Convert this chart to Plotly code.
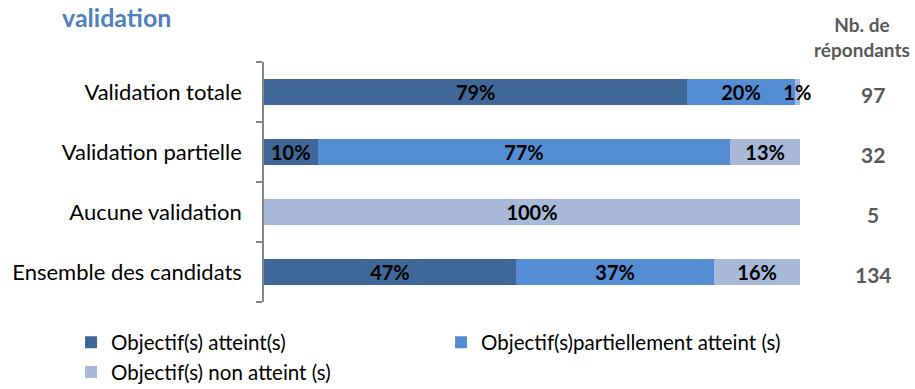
import plotly.graph_objects as go

categories = ["Validation totale", "Validation partielle", "Aucune validation", "Ensemble des candidats"]
series_names = ["Objectif(s) atteint(s)", "Objectif(s)partiellement atteint (s)", "Objectif(s) non atteint (s)"]
atteint = [79, 10, 0, 47]
partiel = [20, 77, 0, 37]
non_atteint = [1, 13, 100, 16]
respondents = [97, 32, 5, 134]

colors = ["#3F6899", "#548DD4", "#A8B8D8"]
FONT = "Lato, 'Open Sans', sans-serif"

fig = go.Figure()
for name, vals, col in zip(series_names, [atteint, partiel, non_atteint], colors):
    fig.add_trace(go.Bar(
        y=categories, x=vals, name=name, orientation="h",
        marker=dict(color=col, line=dict(width=0)),
        text=[f"{v}%" if v else "" for v in vals],
        textposition="inside", insidetextanchor="middle",
        constraintext="none", textangle=0, cliponaxis=False,
        textfont=dict(family=FONT, size=20, color="black", weight="bold"),
        hoverinfo="skip",
    ))

fig.update_layout(
    barmode="stack", bargap=0.58,
    width=915, height=389,
    margin=dict(l=264, r=115, t=62, b=87, autoexpand=False),
    plot_bgcolor="white", paper_bgcolor="white",
    font=dict(family=FONT, size=20, color="black"),
    showlegend=True,
    legend=dict(orientation="h", x=-0.36, y=-0.085, xanchor="left", yanchor="top",
                traceorder="normal", entrywidth=325, entrywidthmode="pixels",
                font=dict(family=FONT, size=20.5, color="black"), itemwidth=30,
                tracegroupgap=0),
    xaxis=dict(range=[0, 100], visible=False, fixedrange=True),
    yaxis=dict(categoryorder="array", categoryarray=categories[::-1],
               autorange=True, showline=True, linecolor="#868686", linewidth=1.5,
               ticks="outside", tickson="boundaries", ticklen=6, tickcolor="#868686",
               tickwidth=1.5, ticklabelstandoff=16,
               tickfont=dict(family=FONT, size=22, color="black")),
)

fig.add_annotation(text="validation", xref="paper", yref="paper", x=-0.381, y=1.0,
                   yshift=45, xanchor="left", yanchor="middle", showarrow=False,
                   font=dict(family=FONT, size=25, color="#4F81BD", weight="bold"))
fig.add_annotation(text="Nb. de<br>répondants", xref="paper", yref="paper", x=1.0,
                   xshift=62, y=1.0, yshift=25, xanchor="center", yanchor="middle",
                   showarrow=False, align="center",
                   font=dict(family=FONT, size=19, color="#595959", weight="bold"))
for cat, n in zip(categories, respondents):
    fig.add_annotation(text=str(n), x=1.0, xref="paper", xshift=73, y=cat, yref="y",
                       yshift=-2, xanchor="center", yanchor="middle", showarrow=False,
                       font=dict(family=FONT, size=21, color="#595959", weight="bold"))

fig.write_html("out.html")
